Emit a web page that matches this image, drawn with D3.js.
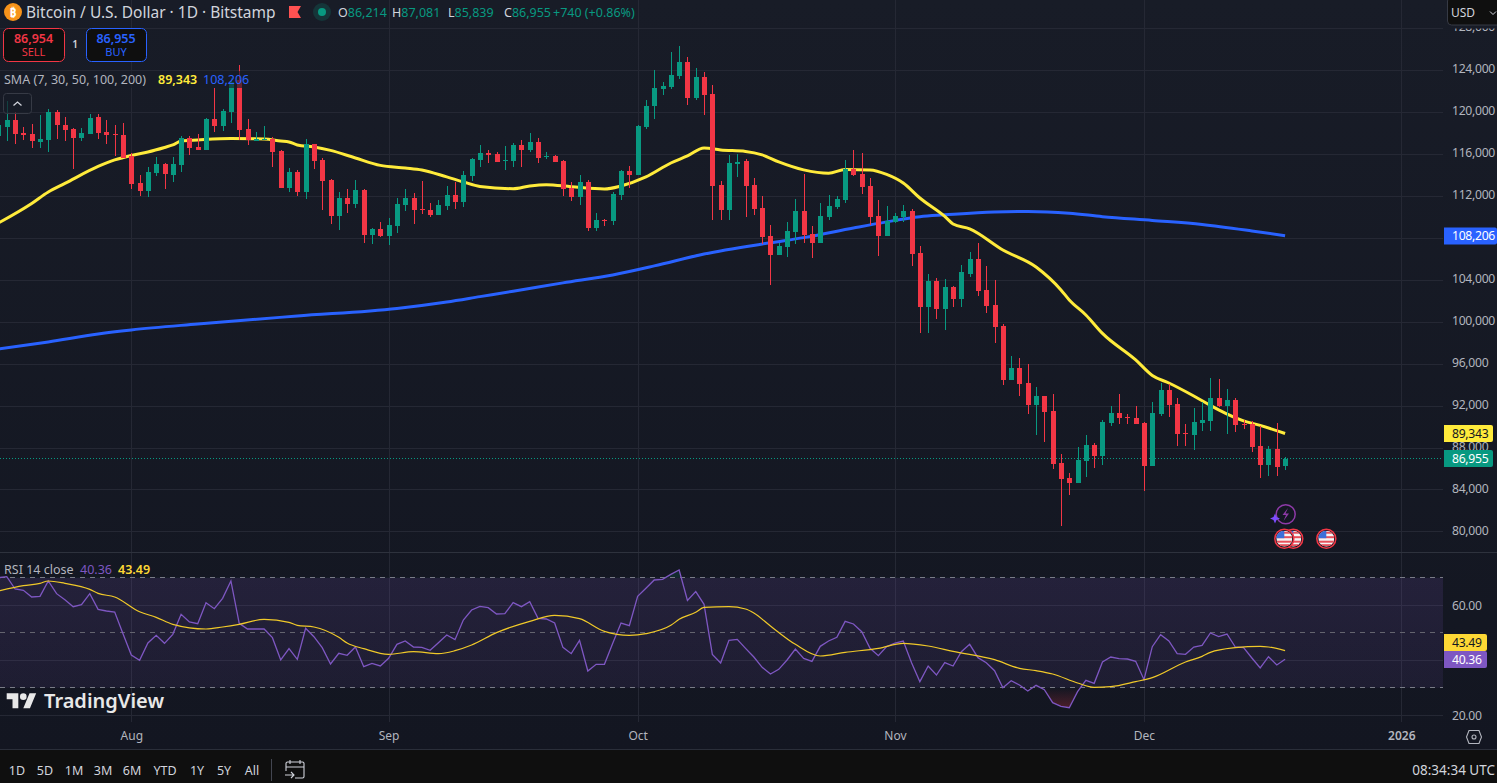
<!DOCTYPE html>
<html>
<head>
<meta charset="utf-8">
<title>Bitcoin / U.S. Dollar</title>
<script src="https://cdn.jsdelivr.net/npm/d3@7/dist/d3.min.js"></script>
<style>
html,body{margin:0;padding:0;background:#131722;overflow:hidden}
svg{display:block}
text{font-family:"Noto Sans",sans-serif}
</style>
</head>
<body>
<svg id="chart" width="1497" height="783"></svg>
<script>
// Daily BTC/USD candles, first candle 16 Jul 2025
const firstDay = "2025-07-16";
const opens = [
117730,118560,119260,118020,117920,117160,117350,120020,118780,118400,
117540,117920,119540,118110,117920,117830,115820,113250,112480,114200,
115060,114010,114960,117540,116680,116390,119350,118680,120020,123070,
118400,117250,117350,117440,116300,112770,114300,112390,116970,115440,
113530,110100,111810,111240,112580,108290,108860,108190,109140,111150,
111810,110770,110670,110190,111050,112100,111430,113910,115440,116110,
116010,115350,115350,116870,116390,117160,115730,115820,115340,112770,
111910,113340,108950,109720,109620,112100,114390,114010,118590,120600,
122210,122410,123460,124790,121360,123360,121740,113060,110670,115060,
115340,113060,110860,108190,106380,107140,108570,110570,108380,107520,
110000,110950,111620,114580,114100,112960,110100,108190,109530,110000,
110570,106570,101410,103900,101220,103320,102180,104560,105990,103040,
101600,99600,94450,95590,94160,92060,92920,91490,86530,85100,
84620,86720,88240,87190,90340,91300,90920,90820,90340,86240,
91200,93490,92160,89390,89200,90340,90540,92730,91970,92540,
90250,90250,88150,86340,87860,86214];
const highs = [
119450,121070,120050,118620,118880,119730,120310,120210,119540,118470,
118490,119830,119830,119260,118780,118970,116110,114010,114770,115730,
115150,115730,117730,117730,117920,119400,122310,120310,123270,124510,
119350,118110,118680,117630,116390,114680,114490,117440,117000,115630,
113630,112390,112670,113530,112670,108950,109530,109910,111810,112670,
112290,113440,111340,111620,112960,113340,114390,115580,116870,116390,
116200,116780,117060,117350,118020,117540,116200,115920,115440,113340,
114010,113530,110380,109810,112390,114490,114870,118780,121170,124030,
122890,125750,126320,125270,124220,123840,122600,113440,115920,116010,
115540,113720,112000,109240,107520,109530,111720,114100,109140,111340,
112100,112000,115440,116390,116110,113720,111620,111050,110380,111150,
110770,107230,104560,104180,104080,103400,105420,106660,107520,105330,
103990,99800,96740,96550,95980,93780,92950,93110,87390,85570,
88050,89200,88430,90630,91970,93110,91200,91970,90440,92350,
94160,94070,92730,90250,91780,92350,94640,94550,93590,92730,
90630,90540,90060,88150,90340,87081];
const lows = [
116870,117250,116970,117350,116610,116580,116200,117440,117250,114580,
117250,117920,117440,116970,115820,115630,112670,112000,111910,113910,
112670,113340,114300,115920,116390,116350,118110,118210,118970,117350,
116870,117250,117350,114770,112770,112390,112000,111720,114580,110670,
109330,108760,110380,110860,107520,107430,108090,107330,108480,110570,
109330,110290,110000,110190,110670,110770,110950,113440,114770,115150,
115250,114490,114770,114770,116200,115150,115530,115250,112000,111530,
111150,108670,108670,109140,109240,111620,112770,114010,118400,119350,
121640,122220,123170,120690,121170,119730,109720,109720,109720,113820,
110000,110190,107430,103510,106380,106190,107430,107520,106090,107520,
109720,110770,111340,113910,112200,109240,106280,108190,109430,109530,
105330,98930,98930,100270,99220,101410,101410,104280,102470,100840,
97980,93970,94450,92920,91200,89200,88530,85960,80520,83470,
84620,85190,86050,86340,90060,90250,90250,90250,83860,86240,
91010,90920,88150,88150,87770,89580,89580,91870,89300,89490,
89770,87580,85100,85290,85290,85839];
const closes = [
118780,119260,117920,117830,117250,117420,120020,118780,118300,117540,
118020,119450,118020,117830,117830,115630,113150,112480,114300,115060,
114100,115060,117540,116580,116390,119350,118680,120120,122910,118300,
117350,117400,117440,116200,112770,114300,112390,116970,115340,113440,
110100,111810,111240,112580,108290,108860,108190,109240,111240,111810,
110670,110670,110190,111150,112100,111430,114010,115540,116110,115920,
115250,115440,116870,116390,117160,115630,115820,115250,112670,111910,
113340,108950,109720,109620,112200,114390,114010,118680,120600,122310,
122500,123550,124790,121360,123360,121640,112960,110670,115150,115250,
112960,110770,108090,106380,107230,108670,110570,108290,107520,110100,
111050,111720,114580,114010,112860,110000,108190,109620,110100,110570,
106470,101410,103900,101220,103320,102180,104750,105990,102940,101510,
99510,94450,95590,94070,92060,92920,91400,86430,85000,84620,
86820,88240,87190,90440,91300,90820,90820,90250,86240,91300,
93490,92060,89300,89300,90440,90630,92730,91970,92540,90150,
90150,88050,86340,87860,86150,86955];

// SMA readings: day number counted from the first candle, then price
const sma50Days = [0,4,6,8,12,14,16,18,20,21,22,24,28,32,34,35,36,38,40,43,46,49,51,54,56,58,62,64,66,69,73,75,78,81,83,85,87,90,92,94,97,100,102,105,107,109,111,114,115,117,121,125,128,129,131,133,137,139,141,144,146,147,150,152,155];
const sma50 = [109430,111290,112390,113200,114820,115440,115870,116200,116630,116870,117250,117350,117490,117440,117250,117160,116870,116680,116350,115630,114920,114680,114490,113820,113340,112910,112700,112960,113080,112890,112670,112960,113820,115150,115820,116580,116390,116250,115920,115250,114490,114170,114530,114490,114060,113240,111810,110050,109330,108860,106850,105230,103040,102080,100650,98890,96360,94880,94160,92920,92020,91590,90540,90110,89343];
const sma200Days = [0,6,12,16,24,36,48,54,58,62,68,74,79,85,93,97,103,107,111,114,120,124,129,133,139,145,151,155];
const sma200 = [97410,98080,98840,99220,99790,100550,101270,101890,102400,102910,103710,104470,105330,106470,107540,108030,108950,109530,110030,110200,110480,110530,110360,110030,109670,109290,108670,108206];

// RSI(14) close, one reading a day
const rsiValues = [
70.05,70.41,65.93,65.44,63.02,63.26,68.84,64.23,62.05,59.50,
60.23,64.23,58.53,57.93,57.56,49.68,41.93,39.99,46.29,49.08,
46.17,49.44,56.71,53.93,53.32,60.96,58.77,62.53,68.84,53.44,
51.38,51.38,51.38,48.23,40.11,44.23,40.35,51.62,48.59,44.59,
38.65,42.53,41.81,44.84,37.68,38.90,37.93,40.71,45.81,47.02,
44.84,44.71,43.62,46.41,49.20,47.50,54.65,58.29,59.62,59.14,
56.84,56.96,60.96,59.50,61.32,55.26,55.02,53.56,44.71,42.41,
47.26,36.11,38.53,38.53,46.17,53.56,52.59,63.26,66.17,69.20,
69.44,71.26,72.84,61.80,64.96,60.35,42.17,39.02,47.26,47.62,
44.35,41.20,37.44,35.02,36.71,40.11,44.11,40.71,39.62,45.08,
47.02,48.35,54.17,53.20,50.41,44.35,41.68,44.96,46.29,47.02,
39.14,32.23,37.93,34.65,39.14,37.93,43.14,45.81,40.96,39.14,
36.23,30.05,32.59,31.02,28.84,30.90,29.32,24.59,23.26,22.77,
28.59,32.71,31.62,39.38,41.20,40.59,40.47,39.62,32.96,44.96,
49.32,47.02,42.41,42.17,44.84,45.44,49.93,48.59,49.56,44.84,
44.59,40.84,37.20,41.32,38.29,40.36];
const rsiMaDays = [0,3,5,6,8,11,12,14,17,19,21,25,27,29,32,35,36,38,41,42,44,47,50,53,55,57,60,64,67,70,73,76,78,81,82,84,85,88,90,91,93,96,99,102,106,109,112,115,120,123,125,127,130,132,134,137,139,143,145,146,149,152,153,155];
const rsiMa = [65.2,67.14,67.99,68.84,67.99,65.80,64.35,63.02,57.68,55.62,53.08,51.38,52.11,53.08,54.90,53.80,52.71,52.11,48.35,46.29,44.23,42.17,43.14,42.41,43.50,45.56,50.05,54.17,56.35,55.14,50.53,49.08,49.68,52.71,54.90,57.44,59.26,59.50,58.65,57.20,52.47,45.81,41.56,42.90,44.35,46.17,45.20,43.26,40.23,37.08,36.23,35.02,31.74,30.17,30.41,32.23,33.68,39.38,41.44,42.90,44.59,45.08,44.84,43.49];

const priceTicks = [80000,84000,88000,92000,96000,100000,104000,108000,112000,116000,120000,124000,128000];
const priceLabels = [80000,84000,88000,92000,96000,100000,104000,112000,116000,120000,124000,128000];
const rsiTicks = [20,40,60];
const rsiLabels = [20,60];
const rsiLevels = [30,50,70];
const monthTicks = ["2025-08-01","2025-09-01","2025-10-01","2025-11-01","2025-12-01","2026-01-01"];
const monthLabels = ["Aug","Sep","Oct","Nov","Dec","2026"];
const rangeButtons = ["1D","5D","1M","3M","6M","YTD","1Y","5Y","All"];
const rangeButtonX = [17,45,74,103,132,165,197,224,252];
const ohlcParts = [["O","86,214"],["H","87,081"],["L","85,839"],["C","86,955"]];
const ohlcX = [338,392,448,504];

const UP = "#089981", DOWN = "#f23645", YELLOW = "#ffeb3b", BLUE = "#2962ff",
      PURPLE = "#7e57c2", RSI_MA = "#f0c929", GRID = "#252834", AXIS = "#b2b5be";
const PLOT_W = 1443;

const svg = d3.select("#chart");
const defs = svg.append("defs");
const bg = defs.append("linearGradient").attr("id","bg").attr("x1",0).attr("x2",0).attr("y1",0).attr("y2",1);
bg.append("stop").attr("offset",0).attr("stop-color","#181c27");
bg.append("stop").attr("offset",1).attr("stop-color","#131621");
defs.append("clipPath").attr("id","plot").append("rect").attr("x",0).attr("y",0).attr("width",PLOT_W).attr("height",552);
defs.append("clipPath").attr("id","priceAxisLocal").append("rect").attr("x",0).attr("y",28.4).attr("width",54).attr("height",523);
defs.append("pattern").attr("id","dots").attr("patternUnits","userSpaceOnUse").attr("width",3).attr("height",1)
  .append("rect").attr("width",1).attr("height",1).attr("fill",UP);

svg.append("rect").attr("width",1497).attr("height",750).attr("fill","url(#bg)");

// Scales
const parseDay = d3.utcParse("%Y-%m-%d");
const dates = opens.map((_,i) => d3.utcDay.offset(parseDay(firstDay), i));
const x = d3.scaleUtc().domain([parseDay("2025-08-01"), parseDay("2026-01-01")]).range([131.3,1401.3]);
const y = d3.scaleLinear().domain([80000,128000]).range([531.4,28.3]);
const yR = d3.scaleLinear().domain([20,70]).range([715.3,577.8]);
const monthDates = monthTicks.map(parseDay);

// Grid lines, drawn with the same axis generators that carry the labels
const styleGrid = g => {
  g.select(".domain").remove();
  g.selectAll("line").attr("stroke",GRID).attr("stroke-width",1).attr("shape-rendering","crispEdges");
  g.selectAll("text").remove();
};
svg.append("g")
  .call(d3.axisRight(y).tickValues(priceTicks).tickSize(PLOT_W)).call(styleGrid);
svg.append("g")
  .call(d3.axisRight(yR).tickValues(rsiTicks).tickSize(PLOT_W)).call(styleGrid);
svg.append("g")
  .call(d3.axisBottom(x).tickValues(monthDates).tickSize(552)).call(styleGrid);
svg.append("g").attr("transform","translate(0,553)")
  .call(d3.axisBottom(x).tickValues(monthDates).tickSize(169)).call(styleGrid);

// Price pane
const pane = svg.append("g").attr("clip-path","url(#plot)");

// Dotted last-price line
pane.append("rect").attr("x",0).attr("width",PLOT_W)
  .attr("y",Math.floor(y(closes[closes.length-1]))).attr("height",1)
  .attr("fill","url(#dots)");

const dayX = n => x(d3.utcDay.offset(parseDay(firstDay), n));
const smaLine = d3.line().curve(d3.curveMonotoneX);
pane.append("path")
  .attr("d",smaLine(sma200Days.map((d,i)=>[dayX(d),y(sma200[i])])))
  .attr("fill","none").attr("stroke",BLUE).attr("stroke-width",3);
pane.append("path")
  .attr("d",smaLine(sma50Days.map((d,i)=>[dayX(d),y(sma50[i])])))
  .attr("fill","none").attr("stroke",YELLOW).attr("stroke-width",3);

// Candles sit on top of the moving averages
const candles = pane.append("g").attr("shape-rendering","crispEdges")
  .selectAll("g").data(dates).join("g");
candles.append("rect")
  .attr("x",d=>Math.round(x(d)))
  .attr("width",1)
  .attr("y",(d,i)=>y(highs[i]))
  .attr("height",(d,i)=>y(lows[i])-y(highs[i]))
  .attr("fill",(d,i)=>closes[i]>=opens[i]?UP:DOWN);
candles.append("rect")
  .attr("x",d=>Math.round(x(d))-2)
  .attr("width",5)
  .attr("y",(d,i)=>y(Math.max(opens[i],closes[i])))
  .attr("height",(d,i)=>Math.max(1,Math.abs(y(opens[i])-y(closes[i]))))
  .attr("fill",(d,i)=>closes[i]>=opens[i]?UP:DOWN);

// RSI pane
const bandFill = defs.append("linearGradient").attr("id","band").attr("x1",0).attr("x2",0).attr("y1",0).attr("y2",1);
bandFill.append("stop").attr("offset",0).attr("stop-color",PURPLE).attr("stop-opacity",.15);
bandFill.append("stop").attr("offset",1).attr("stop-color",PURPLE).attr("stop-opacity",.1);
const rsiG = svg.append("g");
rsiG.append("rect").attr("x",0).attr("width",PLOT_W)
  .attr("y",yR(70)).attr("height",yR(30)-yR(70))
  .attr("fill","url(#band)");

const rsiPts = rsiValues.map((v,i)=>[x(dates[i]),v]);
// Oversold / overbought shading between the RSI line and its bands
const oversold = defs.append("linearGradient").attr("id","os").attr("gradientUnits","userSpaceOnUse")
  .attr("x1",0).attr("x2",0).attr("y1",yR(30)).attr("y2",yR(20));
oversold.append("stop").attr("offset",0).attr("stop-color","#f23645").attr("stop-opacity",0);
oversold.append("stop").attr("offset",1).attr("stop-color","#f23645").attr("stop-opacity",.35);
defs.append("clipPath").attr("id","belowBand").append("rect").attr("x",0).attr("width",PLOT_W).attr("y",yR(30)).attr("height",60);
defs.append("clipPath").attr("id","aboveBand").append("rect").attr("x",0).attr("width",PLOT_W).attr("y",yR(70)-30).attr("height",30);
const rsiArea = level => d3.area().x(d=>d[0]).y0(yR(level)).y1(d=>yR(d[1]));
rsiG.append("path").attr("d",rsiArea(30)(rsiPts)).attr("fill","url(#os)").attr("clip-path","url(#belowBand)");
rsiG.append("path").attr("d",rsiArea(70)(rsiPts)).attr("fill",UP).attr("fill-opacity",.15).attr("clip-path","url(#aboveBand)");

rsiG.selectAll(".lvl").data(rsiLevels).join("line").attr("class","lvl")
  .attr("x1",0).attr("x2",PLOT_W).attr("y1",d=>Math.floor(yR(d))+.5).attr("y2",d=>Math.floor(yR(d))+.5)
  .attr("stroke",d=>d===50?"#64646f":"#787b86").attr("stroke-dasharray","5 5");

rsiG.append("path")
  .attr("d",d3.line().x(d=>d[0]).y(d=>yR(d[1]))(rsiPts))
  .attr("fill","none").attr("stroke",PURPLE).attr("stroke-width",1.3);
rsiG.append("path")
  .attr("d",smaLine(rsiMaDays.map((d,i)=>[dayX(d),yR(rsiMa[i])])))
  .attr("fill","none").attr("stroke",RSI_MA).attr("stroke-width",1.2);

// Pane separators
[[0,552.5,1497],[0,749.5,1497]].forEach(([a,b,c],i)=>{
  svg.append("line").attr("x1",a).attr("x2",c).attr("y1",b).attr("y2",b).attr("stroke",i?"#2a2e39":"#2e323d");
});

// Axes with labels
const styleAxis = (g,size) => {
  g.select(".domain").remove();
  g.selectAll("line").remove();
  g.selectAll("text").attr("fill",AXIS).attr("font-size",size).attr("letter-spacing",-.3);
};
svg.append("g").attr("transform",`translate(${PLOT_W},0)`)
  .append("g").attr("clip-path","url(#priceAxisLocal)")
  .call(d3.axisRight(y).tickValues(priceLabels).tickFormat(d3.format(",")).tickSize(0).tickPadding(9))
  .call(g=>styleAxis(g,12.2))
  .call(g=>g.selectAll("text").attr("y",-1.3));
svg.append("g").attr("transform",`translate(${PLOT_W},0)`)
  .call(d3.axisRight(yR).tickValues(rsiLabels).tickFormat(d3.format(".2f")).tickSize(0).tickPadding(9))
  .call(g=>styleAxis(g,12.2));
svg.append("g").attr("transform","translate(0,722)")
  .call(d3.axisBottom(x).tickValues(monthDates).tickFormat((d,i)=>monthLabels[i]).tickSize(0).tickPadding(9))
  .call(g=>styleAxis(g,12))
  .call(g=>g.selectAll("text").attr("font-weight",(d,i)=>i===5?600:400).attr("letter-spacing",0));

// Value tags on the right axis
const tag = (cy,w,fill,txt,col) => {
  const g = svg.append("g");
  g.append("path").attr("d",`M${PLOT_W+1},${cy-8.5}H${PLOT_W+w-2}a2,2 0 0 1 2,2V${cy+6.5}a2,2 0 0 1 -2,2H${PLOT_W+1}Z`).attr("fill",fill);
  g.append("text").attr("x",PLOT_W+9).attr("y",cy).attr("dy",".36em").attr("font-size",12.2).attr("letter-spacing",-.3).attr("fill",col).text(txt);
};
tag(Math.round(y(108206)),54,BLUE,d3.format(",")(108206),"#fff");
tag(433.5,50,YELLOW,d3.format(",")(89343),"#131722");
tag(458.5,50,UP,d3.format(",")(86955),"#fff");
tag(642.5,44,"#fdd835",d3.format(".2f")(43.49),"#131722");
tag(659.5,44,PURPLE,d3.format(".2f")(40.36),"#fff");

// Header
const T = (px,py,s,size,col,extra={}) => {
  const t = svg.append("text").attr("x",px).attr("y",py).attr("dy",".36em").attr("font-size",size).attr("fill",col).text(s);
  Object.entries(extra).forEach(([k,v])=>t.attr(k,v));
  return t;
};
svg.append("circle").attr("cx",13).attr("cy",12).attr("r",9).attr("fill","#f7931a");
T(13,12.5,"₿",12,"#fff",{"text-anchor":"middle","font-weight":700,"font-family":"DejaVu Sans"});
T(26,12,"Bitcoin / U.S. Dollar · 1D · Bitstamp",15.5,"#d1d4dc");
svg.append("path").attr("d","M289,6H301L297.5,12L301,18H289Z").attr("fill","#ff5252");
svg.append("circle").attr("cx",322).attr("cy",12).attr("r",9).attr("fill",UP).attr("fill-opacity",.2);
svg.append("circle").attr("cx",322).attr("cy",12).attr("r",4).attr("fill",UP);
ohlcParts.forEach(([k,v],i)=>{
  const t = T(ohlcX[i],12,k,12.5,"#d1d4dc");
  t.append("tspan").attr("fill",UP).text(v);
});
T(553,12,"+740 (+0.86%)",12.5,UP);

// Sell / buy boxes
const tradeBox = (bx,w,col,price,label) => {
  svg.append("rect").attr("x",bx+.5).attr("y",28.5).attr("width",w).attr("height",33).attr("rx",5).attr("fill","#0f0f0f").attr("stroke",col);
  T(bx+w/2,38,price,12.5,col,{"text-anchor":"middle","font-weight":600});
  T(bx+w/2,52,label,11,col,{"text-anchor":"middle"});
};
tradeBox(3,61,"#f23645","86,954","SELL");
tradeBox(86,60,"#2962ff","86,955","BUY");
T(75,44,"1",10,"#d1d4dc",{"text-anchor":"middle","font-weight":600});

// Indicator legend
svg.append("rect").attr("x",0).attr("y",71).attr("width",251).attr("height",17).attr("fill","#171b26").attr("fill-opacity",.65);
T(4,79,"SMA (7, 30, 50, 100, 200)",12.5,"#b2b5be");
T(158,79,"89,343",12.5,YELLOW,{"font-weight":600});
T(203,79,"108,206",12.5,BLUE);
svg.append("rect").attr("x",3.5).attr("y",93.5).attr("width",28).attr("height",20).attr("rx",3).attr("fill","#171b26").attr("fill-opacity",.7).attr("stroke","#363a45");
svg.append("path").attr("d","M13.5,105.5L17.5,102L21.5,105.5").attr("fill","none").attr("stroke","#d1d4dc").attr("stroke-width",1.3);

T(4,569,"RSI 14 close",12.5,"#b2b5be");
T(80,569,"40.36",12.5,PURPLE);
T(118,569,"43.49",12.5,"#fdd835",{"font-weight":600});

// Currency selector
svg.append("rect").attr("x",1447.5).attr("y",-3).attr("width",55).attr("height",28).attr("rx",4).attr("fill","#0f0f0f").attr("stroke","#363a45");
T(1451,12.5,"USD",12,"#d1d4dc");
svg.append("path").attr("d","M1490,11.5l3,3l3,-3").attr("fill","none").attr("stroke","#d1d4dc");

// Logo mark and wordmark
const logo = svg.append("g");
logo.append("g").attr("transform","translate(6.7,690) scale(.83)").attr("fill","#e8e8e8")
  .call(g=>{
    g.append("path").attr("d","M14 22H7V11H0V4h14v18zM28 22h-8l7.5-18h8L28 22z");
    g.append("circle").attr("cx",20).attr("cy",8).attr("r",4);
  });
logo.append("text").attr("x",44).attr("y",708).attr("font-size",20).attr("font-weight",600).attr("font-family","Inter").attr("fill","#e8e8e8").text("TradingView");

// Economic-event markers under the candles
const usFlag = (cx,cy,id) => {
  defs.append("clipPath").attr("id",id).append("circle").attr("cx",cx).attr("cy",cy).attr("r",8);
  const g = svg.append("g");
  g.append("circle").attr("cx",cx).attr("cy",cy).attr("r",9.5).attr("fill","#131722").attr("stroke","#f23645").attr("stroke-width",1.5);
  const c = g.append("g").attr("clip-path",`url(#${id})`);
  c.append("rect").attr("x",cx-8).attr("y",cy-8).attr("width",16).attr("height",16).attr("fill","#f5f5f5");
  [-6,-1.5,3,6.5].forEach(o=>c.append("rect").attr("x",cx-8).attr("y",cy+o-1).attr("width",16).attr("height",2).attr("fill","#e8505b"));
  c.append("rect").attr("x",cx-8).attr("y",cy-8).attr("width",8).attr("height",7.5).attr("fill","#3d6fd8");
};
usFlag(1293.3,538.7,"f2");
usFlag(1284.3,538.7,"f1");
usFlag(1326.3,538.7,"f3");
svg.append("circle").attr("cx",1285.7).attr("cy",514.3).attr("r",9.5).attr("fill","#131722").attr("stroke","#8e3aa8").attr("stroke-width",1.5);
svg.append("path").attr("d","M1288,508L1282.5,515H1286L1283.5,521L1289,513.5H1285.5Z").attr("fill","#8e3aa8");
svg.append("path").attr("d","M1275,513.5L1276.5,517L1280,518.5L1276.5,520L1275,523.5L1273.5,520L1270,518.5L1273.5,517Z").attr("fill","#7c4dff");

// Settings glyph on the time axis
svg.append("path").attr("d","M1469,730.5H1479L1481.5,737L1479,743.5H1469L1466.5,737Z").attr("fill","none").attr("stroke",AXIS).attr("stroke-width",1.1);
svg.append("circle").attr("cx",1474).attr("cy",737).attr("r",2).attr("fill","none").attr("stroke",AXIS).attr("stroke-width",1.1);

// Bottom toolbar
svg.append("rect").attr("y",750).attr("width",1497).attr("height",33).attr("fill","#0f0f0f");
rangeButtons.forEach((b,i)=>T(rangeButtonX[i],770,b,12.5,"#d1d4dc",{"text-anchor":"middle"}));
svg.append("line").attr("x1",271.5).attr("x2",271.5).attr("y1",759).attr("y2",781).attr("stroke","#434651");
svg.append("path").attr("d","M286,763.5a1.5,1.5 0 0 1 1.5,-1.5H302.5a1.5,1.5 0 0 1 1.5,1.5V776.5a1.5,1.5 0 0 1 -1.5,1.5H295M286,763.5V771M286,767H304M290,760V764M300,760V764M285,775H294M291,772L294,775L291,778")
  .attr("fill","none").attr("stroke","#d1d4dc").attr("stroke-width",1.1);
T(1495,770,"08:34:34 UTC",13.5,"#d1d4dc",{"text-anchor":"end"});
</script>
</body>
</html>
